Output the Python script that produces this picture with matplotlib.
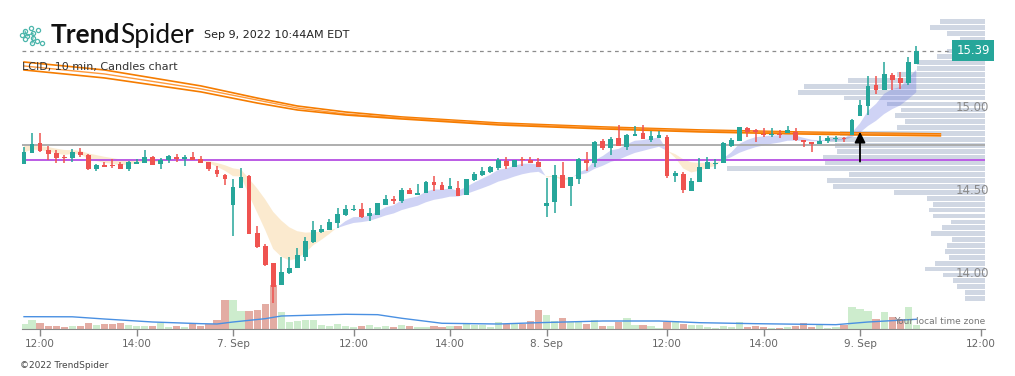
import numpy as np
import matplotlib.pyplot as plt
from matplotlib.transforms import blended_transform_factory

# LCID 10 min candles, regular session only (Sep 6 11:40 -> Sep 9 10:40)
opens = [14.713, 14.779, 14.837, 14.795, 14.777, 14.751, 14.749, 14.783, 14.765, 14.683,
         14.705, 14.705, 14.711, 14.683, 14.713, 14.719, 14.753, 14.713, 14.733, 14.753,
         14.743, 14.753, 14.741, 14.723, 14.675, 14.645,
         14.466, 14.568, 14.639, 14.295, 14.217, 14.114, 13.984, 14.056, 14.086, 14.152,
         14.241, 14.303, 14.313, 14.357, 14.404, 14.434, 14.440, 14.399, 14.404, 14.464,
         14.500, 14.490, 14.554, 14.526, 14.538, 14.602, 14.584, 14.560, 14.566, 14.526,
         14.614, 14.645, 14.663, 14.687, 14.729, 14.693, 14.741, 14.735, 14.723,
         14.460, 14.484, 14.645, 14.580, 14.622, 14.735, 14.719, 14.849, 14.809, 14.867,
         14.815, 14.881, 14.898, 14.855, 14.869, 14.873, 14.640, 14.651, 14.550, 14.604,
         14.681, 14.711, 14.719, 14.819, 14.849, 14.928, 14.916, 14.892, 14.887, 14.892,
         14.898, 14.904, 14.857, 14.842, 14.831, 14.851, 14.863, 14.867, 14.887,
         15.000, 15.062, 15.187, 15.158, 15.247, 15.229, 15.201, 15.313]
highs = [14.813, 14.898, 14.898, 14.819, 14.795, 14.765, 14.801, 14.807, 14.771, 14.713,
         14.723, 14.741, 14.723, 14.729, 14.741, 14.795, 14.759, 14.747, 14.765, 14.771,
         14.765, 14.783, 14.759, 14.723, 14.699, 14.651,
         14.620, 14.687, 14.645, 14.337, 14.231, 14.114, 14.151, 14.151, 14.205, 14.271,
         14.367, 14.343, 14.380, 14.446, 14.464, 14.464, 14.476, 14.446, 14.476, 14.524,
         14.518, 14.566, 14.566, 14.590, 14.608, 14.639, 14.602, 14.627, 14.608, 14.620,
         14.663, 14.693, 14.699, 14.747, 14.753, 14.735, 14.753, 14.753, 14.747,
         14.627, 14.705, 14.723, 14.633, 14.747, 14.783, 14.849, 14.861, 14.873, 14.946,
         14.892, 14.940, 14.946, 14.910, 14.910, 14.886, 14.670, 14.663, 14.627, 14.747,
         14.753, 14.741, 14.843, 14.867, 14.934, 14.934, 14.922, 14.928, 14.928, 14.916,
         14.940, 14.928, 14.857, 14.842, 14.880, 14.880, 14.880, 14.875, 14.982,
         15.096, 15.241, 15.241, 15.325, 15.259, 15.265, 15.355, 15.422]
lows = [14.711, 14.779, 14.785, 14.735, 14.719, 14.719, 14.725, 14.755, 14.677, 14.670,
        14.695, 14.689, 14.683, 14.670, 14.713, 14.719, 14.707, 14.683, 14.719, 14.725,
        14.701, 14.735, 14.719, 14.670, 14.631, 14.586,
        14.279, 14.568, 14.291, 14.207, 14.098, 13.875, 13.984, 14.050, 14.086, 14.128,
        14.237, 14.297, 14.313, 14.325, 14.398, 14.428, 14.386, 14.367, 14.404, 14.464,
        14.470, 14.478, 14.530, 14.526, 14.538, 14.548, 14.554, 14.560, 14.518, 14.526,
        14.608, 14.639, 14.657, 14.675, 14.681, 14.693, 14.699, 14.717, 14.693,
        14.393, 14.417, 14.568, 14.460, 14.592, 14.669, 14.693, 14.797, 14.767, 14.821,
        14.797, 14.881, 14.863, 14.843, 14.869, 14.628, 14.604, 14.538, 14.550, 14.604,
        14.681, 14.681, 14.719, 14.813, 14.849, 14.873, 14.843, 14.873, 14.873, 14.867,
        14.898, 14.849, 14.815, 14.785, 14.831, 14.839, 14.845, 14.845, 14.887,
        15.000, 15.006, 15.134, 15.158, 15.158, 15.164, 15.189, 15.313]
closes = [14.781, 14.831, 14.791, 14.771, 14.749, 14.747, 14.783, 14.767, 14.683, 14.703,
          14.695, 14.701, 14.683, 14.723, 14.723, 14.753, 14.707, 14.733, 14.759, 14.741,
          14.753, 14.735, 14.719, 14.683, 14.649, 14.622,
          14.572, 14.633, 14.291, 14.213, 14.104, 13.970, 14.060, 14.084, 14.163, 14.247,
          14.313, 14.319, 14.361, 14.410, 14.440, 14.440, 14.392, 14.416, 14.476, 14.500,
          14.488, 14.554, 14.530, 14.536, 14.602, 14.584, 14.554, 14.578, 14.518, 14.620,
          14.651, 14.669, 14.693, 14.735, 14.699, 14.735, 14.735, 14.717, 14.693,
          14.476, 14.645, 14.568, 14.633, 14.741, 14.717, 14.843, 14.809, 14.861, 14.821,
          14.886, 14.892, 14.863, 14.880, 14.886, 14.640, 14.657, 14.556, 14.610, 14.693,
          14.723, 14.717, 14.837, 14.855, 14.934, 14.904, 14.904, 14.887, 14.892, 14.886,
          14.916, 14.855, 14.842, 14.833, 14.848, 14.867, 14.867, 14.863, 14.976,
          15.066, 15.181, 15.158, 15.253, 15.219, 15.199, 15.325, 15.392]
# volume, thousands of shares
volume = [133, 233, 158, 83, 83, 58, 83, 83, 158, 108, 118, 133, 158, 108, 83, 83, 83, 158,
          58, 83, 58, 118, 83, 133, 233, 733,
          733, 450, 450, 475, 633, 1100, 425, 183, 208, 233, 233, 108, 83, 133, 83, 58, 83,
          108, 58, 83, 58, 108, 83, 58, 58, 83, 58, 83, 83, 158, 108, 108, 58, 183, 125, 125,
          133, 208, 483,
          358, 208, 283, 183, 183, 133, 233, 83, 83, 183, 283, 108, 108, 83, 33, 183, 208,
          133, 108, 108, 58, 33, 83, 58, 183, 58, 83, 58, 33, 33, 58, 83, 158, 58, 108, 33,
          58, 108, 558,
          508, 458, 258, 433, 308, 258, 558, 108]

# volume moving average (at a few bars)
vol_ma_idx = [0, 6, 10, 16, 22, 24, 26, 30, 32, 40, 44, 47, 52, 59, 64, 72, 79, 84, 91, 101, 105, 111]
vol_ma = [308, 305, 250, 175, 133, 125, 175, 258, 325, 368, 358, 268, 143, 125, 158, 200, 200, 158, 133, 108, 175, 243]

# long moving averages (orange)
ma_idx = [0, 10, 22, 29, 34, 40, 47, 59, 72, 84, 96, 104, 114]
ma_a = [15.325, 15.277, 15.181, 15.108, 15.060, 15.024, 14.994, 14.958, 14.934, 14.916, 14.904, 14.898, 14.892]
ma_b = [15.301, 15.253, 15.163, 15.096, 15.048, 15.012, 14.988, 14.952, 14.928, 14.910, 14.898, 14.892, 14.886]
ma_c = [15.277, 15.229, 15.145, 15.078, 15.036, 15.006, 14.982, 14.946, 14.922, 14.904, 14.892, 14.886, 14.880]

# volume profile, top bin first
prof_top = 15.569
prof_step = 0.0355
prof_vol = [4500, 5500, 3830, 2500, 3000, 3830, 4830, 6830, 6830, 8830, 13670, 18100,
            18670, 14100, 9830, 8430, 9030, 8000, 8770, 14500, 15700, 15000, 14830, 16230,
            16000, 25770, 13570, 15770, 15230, 9100, 5830, 5170, 5630, 5230, 3400, 4330,
            5400, 3270, 3770, 4000, 3570, 4970, 6000, 4170, 3170, 2830, 2000, 2000]

level_grey = 14.823
level_purple = 14.733
last_price = 15.392
arrow_from, arrow_to = 14.725, 14.905

tick_idx = [2, 14, 26, 41, 53, 65, 80, 92, 104, 119]
tick_lbl = ['12:00', '14:00', '7. Sep', '12:00', '14:00', '8. Sep', '12:00', '14:00', '9. Sep', '12:00']
price_lbl = [15.00, 14.50, 14.00]

GREEN = '#26a69a'
RED = '#ef5350'


def ema(values, span, start):
    a = 2.0 / (span + 1)
    out = []
    e = start
    for v in values:
        e = e + a * (v - e)
        out.append(e)
    return np.array(out)


o = np.array(opens); h = np.array(highs); l = np.array(lows); c = np.array(closes)
x = np.arange(len(c))
up = c >= o

fig = plt.figure(figsize=(10.15, 3.76), dpi=100)
W, H = 1015, 376
ax = fig.add_axes([22 / W, 47 / H, 963 / W, 314 / H])
axv = ax.twinx()
ax.set_zorder(2)
ax.patch.set_visible(False)
axv.set_zorder(1)

xmin, xmax = -0.25, 119.55
ax.set_xlim(xmin, xmax)
ax.set_ylim(13.717, 15.608)
axv.set_ylim(0, 7850)

# volume
vcol = np.where(up, '#cdeccd', '#e3aca3')
axv.bar(x, volume, width=0.9, color=vcol, zorder=1)
axv.plot(vol_ma_idx, vol_ma, color='#4a90e2', lw=1.0, zorder=2)
axv.axis('off')

# volume profile on the right
centers = prof_top - prof_step * np.arange(len(prof_vol))
pw = np.array(prof_vol) / 100 / 8.04
ax.barh(centers, pw, left=xmax - pw, height=0.0283, color='#d0d7e3', zorder=1)

# moving average ribbon
fast = ema(closes, 5, 14.78)
slow = ema(closes, 13, 14.83)
ax.fill_between(x, fast, slow, where=fast >= slow, interpolate=True,
                color='#6270de', alpha=0.3, lw=0, zorder=2)
ax.fill_between(x, fast, slow, where=fast < slow, interpolate=True,
                color='#f2bc62', alpha=0.3, lw=0, zorder=2)

# long MAs
ax.plot(ma_idx, ma_a, color='#f57c00', lw=1.2, zorder=3)
ax.plot(ma_idx, ma_b, color='#ff9a3c', lw=1.0, zorder=3)
ax.plot(ma_idx, ma_c, color='#f57c00', lw=1.2, zorder=3)

# levels
ax.axhline(level_grey, color='#a8a8a8', lw=1.3, zorder=2)
ax.axhline(level_purple, color='#b54fe3', lw=1.3, zorder=2)
ax.axhline(last_price, color='#8c8c8c', lw=0.9, ls=(0, (3, 3)), zorder=2)

# candles
col = np.where(up, GREEN, RED)
ax.vlines(x, l, h, colors=col, lw=1.1, zorder=4)
body = np.maximum(np.abs(c - o), 0.006)
ax.bar(x, body, bottom=np.minimum(o, c), width=0.6, color=col, zorder=5)

# signal arrow
ax.annotate('', xy=(104, arrow_to), xytext=(104, arrow_from),
            arrowprops=dict(arrowstyle='-|>', color='black', lw=1.3, mutation_scale=16,
                            shrinkA=0, shrinkB=0), zorder=6)

# axes styling
for s in ['top', 'left', 'right']:
    ax.spines[s].set_visible(False)
ax.spines['bottom'].set_color('#888888')
ax.set_yticks([])
ax.set_xticks(tick_idx)
ax.set_xticklabels(tick_lbl, fontsize=7.5, color='#666666')
ax.tick_params(axis='x', length=5, width=1, color='#888888', pad=2.5)

tr = blended_transform_factory(fig.transFigure, ax.transData)
for p in price_lbl:
    ax.text(989 / W, p + 0.012, '%.2f' % p, transform=tr, ha='right', va='bottom',
            fontsize=8.5, color='#8a8a8a')
ax.text(973 / W, last_price, '%.2f' % last_price, transform=tr, ha='center', va='center',
        fontsize=8.5, color='white', zorder=10,
        bbox=dict(boxstyle='square,pad=0.35', fc=GREEN, ec='none'))

# header
t1 = fig.text(51 / W, 1 - 35 / H, 'Trend', fontsize=19, fontweight='bold', family='Lato',
              va='center', color='#111111')
fig.canvas.draw()
bb = t1.get_window_extent()
fig.text(bb.x1 / W, 1 - 35 / H, 'Spider', fontsize=19, family='Lato', va='center',
         color='#111111')
fig.text(204 / W, 1 - 35 / H, 'Sep 9, 2022 10:44AM EDT', fontsize=8, va='center',
         color='#222222')
fig.text(22 / W, 1 - 67 / H, 'LCID, 10 min, Candles chart', fontsize=8, va='center',
         color='#333333')
fig.text(20 / W, 1 - 366 / H, '\u00a92022 TrendSpider', fontsize=6.5, va='center',
         color='#444444')
fig.text(985 / W, 1 - 322 / H, 'Your local time zone', fontsize=6.5, va='center',
         ha='right', color='#777777')

# logo mark
lg = fig.add_axes([18 / W, 1 - 46 / H, 28 / W, 22 / H])
lg.set_xlim(0, 28); lg.set_ylim(22, 0); lg.axis('off')
dots_x = [4, 7, 9, 13, 15, 15, 14, 20, 19, 24, 7]
dots_y = [11, 7, 12, 4, 9, 14, 19, 6, 17, 19, 15]
lg.plot([7, 9, 15, 15, 14], [7, 12, 9, 14, 19], color='#4db6ac', lw=0.8)
lg.scatter(dots_x, dots_y, s=9, facecolors='white', edgecolors='#4db6ac', lw=0.9)

fig.savefig('out.png', dpi=100)
